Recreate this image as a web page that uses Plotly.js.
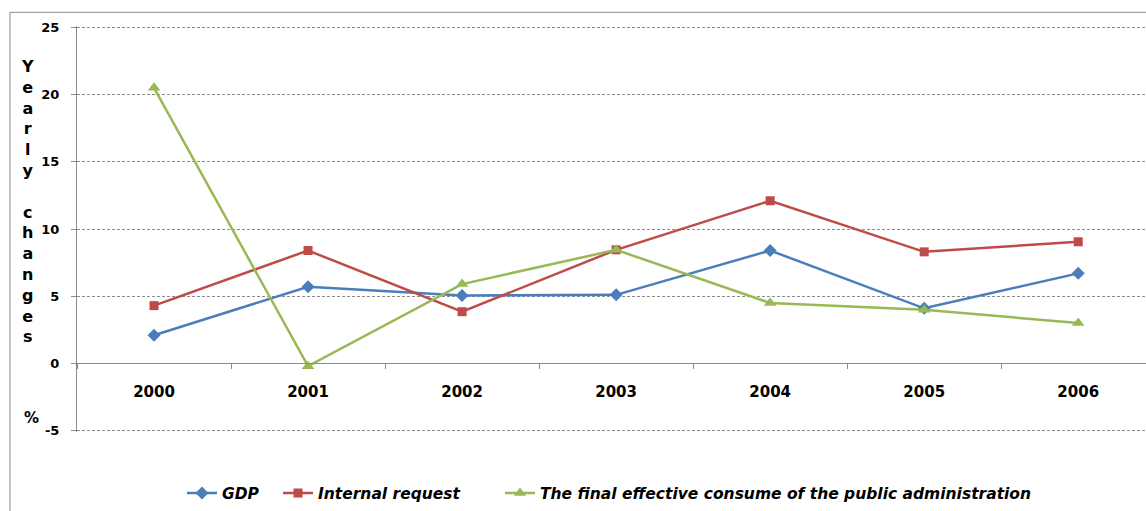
<!DOCTYPE html>
<html>
<head>
<meta charset="utf-8">
<script src="https://cdn.plot.ly/plotly-3.0.1.min.js"></script>
<style>
  html, body { margin: 0; padding: 0; background: #ffffff; }
  #chart { width: 1146px; height: 511px; }
</style>
</head>
<body>
<div id="chart"></div>
<script>
// Yearly changes (%) 2000-2006
const years = ['2000', '2001', '2002', '2003', '2004', '2005', '2006'];
const gdp = [2.1, 5.7, 5.05, 5.1, 8.4, 4.1, 6.7];
const internalRequest = [4.3, 8.4, 3.85, 8.45, 12.1, 8.3, 9.05];
const publicConsumption = [20.5, -0.2, 5.9, 8.45, 4.5, 4.0, 3.0];
const yTicks = [-5, 0, 5, 10, 15, 20, 25];

const seriesNames = ['GDP', 'Internal request', 'The final effective consume of the public administration'];

const legendFont = { family: 'DejaVu Sans', size: 15.5, style: 'italic', weight: 'bold', color: '#000000' };

// plot-area geometry in pixels
const W = 1146, H = 511;
const mL = 77, mR = 0, mT = 25.7, mB = 78.6;
const plotW = W - mL - mR;
const plotH = H - mT - mB;
const plotBottom = H - mB;
const px2x = px => (px - mL) / plotW;
const px2y = py => (plotBottom - py) / plotH;

const traces = [
  {
    x: years, y: gdp, name: seriesNames[0], type: 'scatter', mode: 'lines+markers',
    line: { color: '#4a7ebb', width: 2.5 },
    marker: { symbol: 'diamond', size: 10, color: '#4a7ebb' },
    legend: 'legend'
  },
  {
    x: years, y: internalRequest, name: seriesNames[1], type: 'scatter', mode: 'lines+markers',
    line: { color: '#be4b48', width: 2.5 },
    marker: { symbol: 'square', size: 9, color: '#be4b48' },
    legend: 'legend2'
  },
  {
    x: years, y: publicConsumption, name: seriesNames[2], type: 'scatter', mode: 'lines+markers',
    line: { color: '#98b954', width: 2.5 },
    marker: { symbol: 'triangle-up', size: 11, color: '#98b954' },
    legend: 'legend3'
  }
];

const legendBase = {
  orientation: 'h', yanchor: 'middle', xanchor: 'left', y: px2y(494),
  font: legendFont, bgcolor: 'rgba(0,0,0,0)', borderwidth: 0, itemwidth: 30
};

const yMin = -5.1, yMax = 25.1;

const layout = {
  width: W,
  height: H,
  margin: { l: mL, r: mR, t: mT, b: mB, pad: 0 },
  paper_bgcolor: '#ffffff',
  plot_bgcolor: '#ffffff',
  showlegend: true,
  xaxis: {
    type: 'category',
    range: [-0.5, 6.44],
    anchor: 'free',
    position: (0 - yMin) / (yMax - yMin),
    showline: true,
    linecolor: '#8a8a8a',
    linewidth: 1,
    showgrid: false,
    zeroline: false,
    ticks: 'outside',
    tickson: 'boundaries',
    ticklen: 5,
    tickcolor: '#8a8a8a',
    ticklabelstandoff: 15,
    tickfont: { family: 'DejaVu Sans', size: 15, weight: 'bold', color: '#000000' }
  },
  yaxis: {
    range: [yMin, yMax],
    tickvals: yTicks,
    ticktext: yTicks.map(String),
    showline: true,
    linecolor: '#8a8a8a',
    linewidth: 1,
    showgrid: true,
    gridcolor: '#8c8c8c',
    gridwidth: 1,
    griddash: '3px,2px',
    zeroline: false,
    ticks: 'outside',
    ticklen: 5,
    tickcolor: '#8a8a8a',
    ticklabelstandoff: 9,
    tickfont: { family: 'DejaVu Sans', size: 13, weight: 'bold', color: '#000000' }
  },
  legend: Object.assign({}, legendBase, { x: px2x(182) }),
  legend2: Object.assign({}, legendBase, { x: px2x(278) }),
  legend3: Object.assign({}, legendBase, { x: px2x(500) }),
  shapes: [
    {
      type: 'rect', xref: 'paper', yref: 'paper',
      x0: px2x(10), x1: 1.05,
      y0: px2y(560), y1: px2y(12),
      line: { color: '#8a8a8a', width: 1 },
      fillcolor: 'rgba(0,0,0,0)', layer: 'below'
    }
  ],
  annotations: [
    {
      xref: 'paper', yref: 'paper', x: px2x(27), y: px2y(55),
      xanchor: 'center', yanchor: 'top', showarrow: false, align: 'center',
      text: 'Y<br>e<br>a<br>r<br>l<br>y<br> <br>c<br>h<br>a<br>n<br>g<br>e<br>s',
      font: { family: 'DejaVu Sans', size: 16, weight: 'bold', color: '#000000' }
    },
    {
      xref: 'paper', yref: 'paper', x: px2x(31), y: px2y(418),
      xanchor: 'center', yanchor: 'middle', showarrow: false,
      text: '%',
      font: { family: 'DejaVu Sans', size: 15, weight: 'bold', color: '#000000' }
    }
  ]
};

Plotly.newPlot('chart', traces, layout, { displayModeBar: false, staticPlot: true });
</script>
</body>
</html>
